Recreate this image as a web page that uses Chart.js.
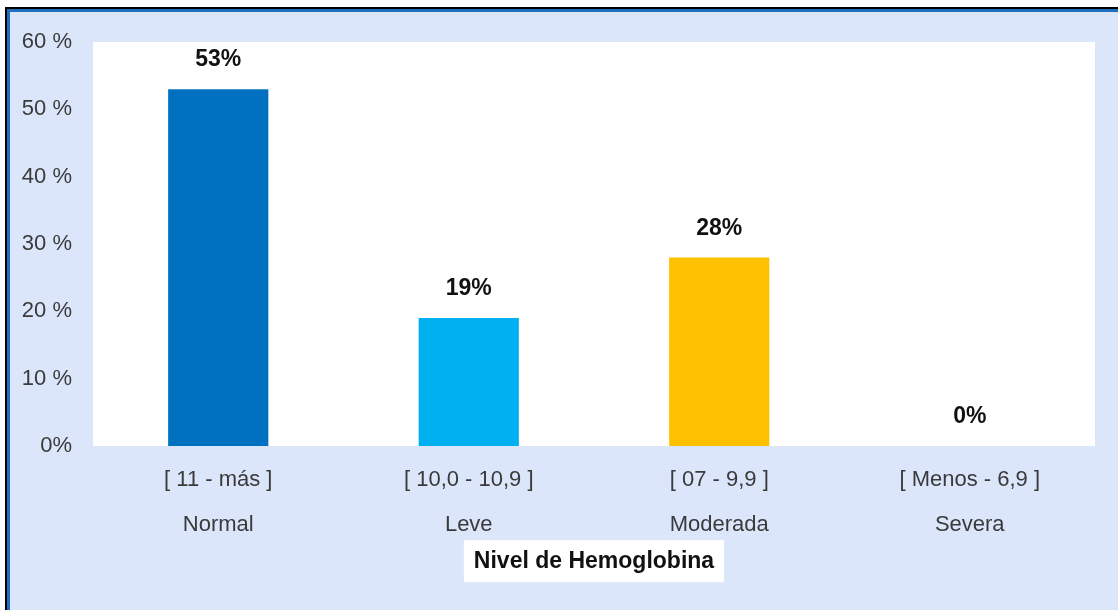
<!DOCTYPE html>
<html>
<head>
<meta charset="utf-8">
<script src="https://cdn.jsdelivr.net/npm/chart.js@4.4.1/dist/chart.umd.min.js"></script>
<style>
    html, body { margin: 0; padding: 0; background: #ffffff; }
    #wrap { width: 1118px; height: 610px; }
</style>
</head>
<body>
<div id="wrap"><canvas id="hbChart" width="1118" height="610"></canvas></div>
<script>
// Nivel de hemoglobina - porcentaje por categoria
const rangos = ["[ 11 - más ]", "[ 10,0 - 10,9 ]", "[ 07 - 9,9 ]", "[ Menos - 6,9 ]"];
const niveles = ["Normal", "Leve", "Moderada", "Severa"];
const porcentajes = [53, 19, 28, 0];
const coloresBarras = ["#0070c0", "#00b0f0", "#ffc000", "#a5a5a5"];
const yTickLabels = ["0%", "10 %", "20 %", "30 %", "40 %", "50 %", "60 %"];
const tituloEje = "Nivel de Hemoglobina";

const FONT = "'Liberation Sans', Arial, sans-serif";
const BG = "#dce6fb";

// background, frame lines, white plot area and the box behind the axis title
const backgroundPlugin = {
    id: "backgroundPlugin",
    beforeDraw(chart) {
        const ctx = chart.ctx;
        const area = chart.chartArea;
        ctx.save();
        ctx.fillStyle = BG;
        ctx.fillRect(5, 7, chart.width - 5, chart.height - 7);
        ctx.fillStyle = "#000000";
        ctx.fillRect(5, 7, chart.width - 5, 2);
        ctx.fillRect(5, 7, 2, chart.height - 7);
        ctx.fillStyle = "#1f6fc0";
        ctx.fillRect(7, 9, chart.width - 7, 3);
        ctx.fillRect(7, 9, 3, chart.height - 9);
        ctx.fillStyle = "#ffffff";
        ctx.fillRect(area.left, area.top, area.right - area.left, area.bottom - area.top);

        const xs = chart.scales.x;
        const t = xs.options.title;
        ctx.font = "bold " + t.font.size + "px " + FONT;
        const w = ctx.measureText(t.text).width;
        const cy = xs.bottom - t.padding.bottom - (t.font.size * 1.2) / 2;
        const cx = (area.left + area.right) / 2;
        ctx.fillRect(cx - w / 2 - 10, cy - 21, w + 20, 42);
        ctx.restore();
    }
};

// value labels above each bar
const valueLabels = {
    id: "valueLabels",
    afterDatasetsDraw(chart) {
        const ctx = chart.ctx;
        const meta = chart.getDatasetMeta(0);
        ctx.save();
        ctx.font = "bold 23px " + FONT;
        ctx.fillStyle = "#111111";
        ctx.textAlign = "center";
        ctx.textBaseline = "middle";
        meta.data.forEach((bar, i) => {
            ctx.fillText(porcentajes[i] + "%", bar.x, bar.y - 29);
        });
        ctx.restore();
    }
};

const canvas = document.getElementById("hbChart");

new Chart(canvas, {
    type: "bar",
    data: {
        labels: rangos.map((r, i) => [r, niveles[i]]),
        datasets: [{
            label: tituloEje,
            data: porcentajes,
            backgroundColor: coloresBarras,
            barPercentage: 0.4,
            categoryPercentage: 1.0
        }]
    },
    options: {
        responsive: false,
        animation: false,
        layout: {
            padding: { top: 42, right: 23, left: 0, bottom: 0 }
        },
        plugins: {
            legend: { display: false },
            tooltip: { enabled: false }
        },
        scales: {
            x: {
                grid: { display: false, drawTicks: false },
                border: { display: false },
                ticks: {
                    color: "#3a3a3a",
                    padding: 11,
                    maxRotation: 0,
                    autoSkip: false,
                    font: { family: FONT, size: 22, lineHeight: "45px" }
                },
                title: {
                    display: true,
                    text: tituloEje,
                    color: "#111111",
                    padding: { top: 0, bottom: 35 },
                    font: { family: FONT, size: 23, weight: "bold" }
                },
                afterFit(scale) { scale.height = 164; }
            },
            y: {
                min: 0,
                max: 60,
                grid: { display: false, drawTicks: false },
                border: { display: false },
                ticks: {
                    stepSize: 10,
                    color: "#3a3a3a",
                    padding: 21,
                    font: { family: FONT, size: 22 },
                    callback: (value) => yTickLabels[Math.round(value / 10)]
                },
                afterFit(scale) { scale.width = 93; }
            }
        }
    },
    plugins: [backgroundPlugin, valueLabels]
});
</script>
</body>
</html>
